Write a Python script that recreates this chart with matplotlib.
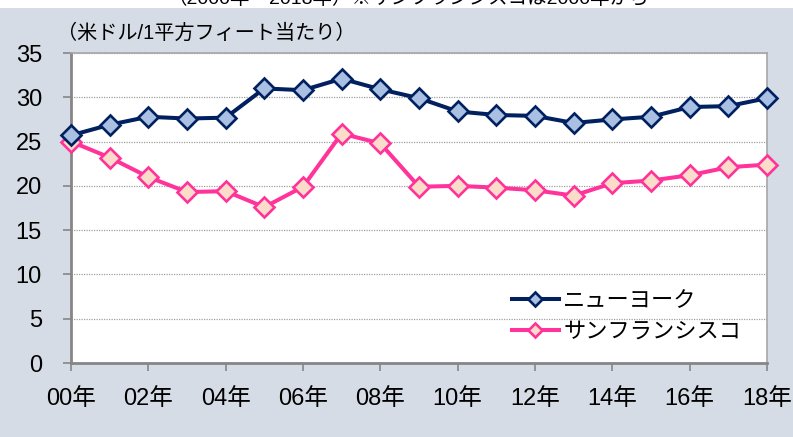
import matplotlib
matplotlib.use("Agg")
import matplotlib.pyplot as plt
from matplotlib.patches import Rectangle

plt.rcParams['font.family'] = ['Liberation Sans', 'Noto Sans CJK JP', 'DejaVu Sans']

years = list(range(0, 19))
tick_years = list(range(0, 19, 2))
tick_labels = [f"{y:02d}年" for y in tick_years]
ny = [25.7, 26.9, 27.8, 27.6, 27.7, 31.0, 30.8, 32.1, 30.9, 29.9,
      28.4, 28.0, 27.9, 27.1, 27.5, 27.8, 28.9, 29.0, 29.9]
sf = [25.0, 23.2, 21.0, 19.3, 19.4, 17.6, 19.9, 25.9, 24.8, 19.9,
      20.0, 19.8, 19.5, 18.9, 20.3, 20.6, 21.2, 22.1, 22.4]
series_names = ["ニューヨーク", "サンフランシスコ"]
y_ticks = [0, 5, 10, 15, 20, 25, 30, 35]
unit_label = "（米ドル/1平方フィート当たり）"
top_title = "（2000年～2018年）※サンフランシスコは2000年から"

fig = plt.figure(figsize=(7.93, 4.37), dpi=100)
fig.patch.set_facecolor('#D6DCE5')
fig.patches.append(Rectangle((0, 1 - 8/437), 1, 8/437, transform=fig.transFigure,
                             facecolor='white', edgecolor='none', zorder=0))
fig.text(0.515, 1 - 7.5/437, top_title, ha='center', va='bottom', fontsize=14, color='black')

ax = fig.add_axes([71/793, 1 - 363/437, (767 - 71)/793, (363 - 53)/437])
ax.set_facecolor('white')

ax.plot(years, ny, color='#002060', lw=2.9, marker='D', ms=10.5,
        mfc='#A9C0E2', mec='#002060', mew=1.9, label=series_names[0], zorder=4, clip_on=False)
ax.plot(years, sf, color='#FF3399', lw=2.9, marker='D', ms=10.5,
        mfc='#FBDCCB', mec='#FF3399', mew=1.9, label=series_names[1], zorder=3, clip_on=False)

ax.set_xlim(0, 18)
ax.set_ylim(0, 35)
ax.set_yticks(y_ticks)
ax.set_xticks(tick_years)
ax.set_xticklabels(tick_labels)
ax.tick_params(axis='both', labelsize=17, colors='black', length=6, width=1.2, color='#868686')
ax.tick_params(axis='x', pad=12)
ax.tick_params(axis='y', pad=15)

ax.grid(axis='y', color='#A0A0A0', linestyle=(0, (1, 1)), lw=0.9)
ax.set_axisbelow(True)
for s in ['left', 'bottom']:
    ax.spines[s].set_color('#868686')
    ax.spines[s].set_linewidth(2)
for s in ['top', 'right']:
    ax.spines[s].set_color('#A6A6A6')
    ax.spines[s].set_linewidth(1.2)

fig.text(57/793, 1 - 33/437, unit_label, ha='left', va='center', fontsize=14.5, color='black')

leg = ax.legend(loc='center left', bbox_to_anchor=((512 - 71)/696, (363 - 317)/310), frameon=False,
                fontsize=16, handlelength=2.1, handletextpad=0.2, labelspacing=0.45,
                borderaxespad=0, borderpad=0, markerscale=0.72)

fig.savefig("out.png", dpi=100, facecolor=fig.get_facecolor())
